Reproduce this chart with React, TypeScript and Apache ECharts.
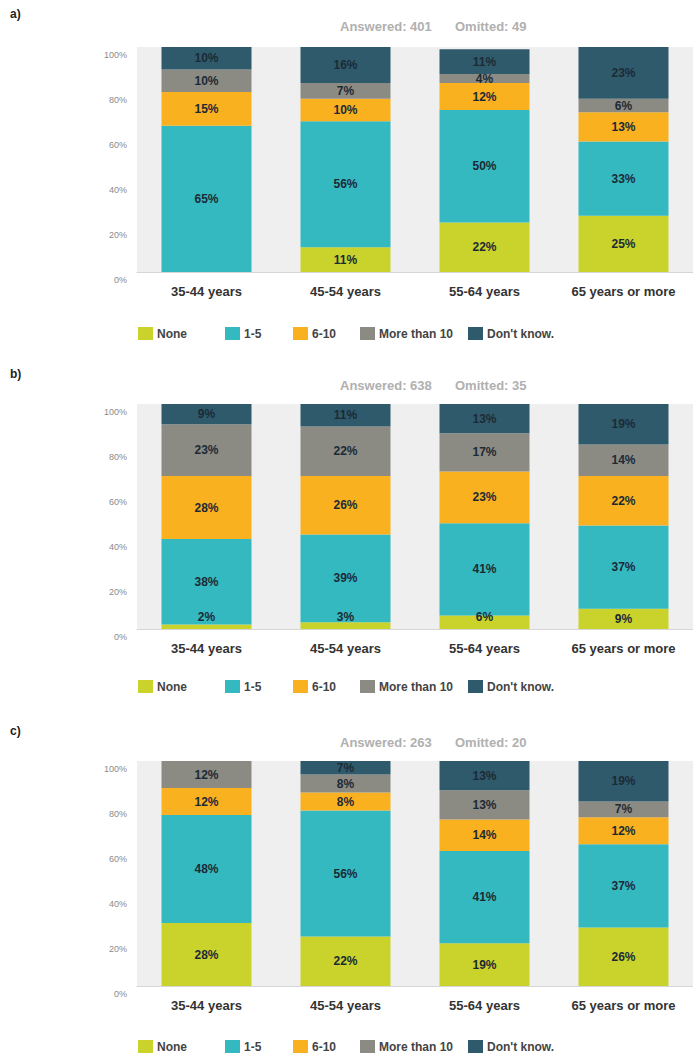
import React, { useEffect, useRef } from "react";
import * as echarts from "echarts";

const categories = ["35-44 years", "45-54 years", "55-64 years", "65 years or more"];
const seriesNames = ["None", "1-5", "6-10", "More than 10", "Don't know."];
const seriesColors = ["#c9d32b", "#35b9c1", "#f9b120", "#8b8b84", "#2f5a6b"];

// Panel a)
const aNone = [0, 11, 22, 25];
const aOneToFive = [65, 56, 50, 33];
const aSixToTen = [15, 10, 12, 13];
const aMoreThanTen = [10, 7, 4, 6];
const aDontKnow = [10, 16, 11, 23];

// Panel b)
const bNone = [2, 3, 6, 9];
const bOneToFive = [38, 39, 41, 37];
const bSixToTen = [28, 26, 23, 22];
const bMoreThanTen = [23, 22, 17, 14];
const bDontKnow = [9, 11, 13, 19];

// Panel c)
const cNone = [28, 22, 19, 26];
const cOneToFive = [48, 56, 41, 37];
const cSixToTen = [12, 8, 14, 12];
const cMoreThanTen = [12, 8, 13, 7];
const cDontKnow = [0, 7, 13, 19];

const panelLabels = ["a)", "b)", "c)"];
const answered = [401, 638, 263];
const omitted = [49, 35, 20];
const yTicks = [0, 20, 40, 60, 80, 100];

const panelData = [
  [aNone, aOneToFive, aSixToTen, aMoreThanTen, aDontKnow],
  [bNone, bOneToFive, bSixToTen, bMoreThanTen, bDontKnow],
  [cNone, cOneToFive, cSixToTen, cMoreThanTen, cDontKnow],
];

// layout (pixels)
const gridTops = [47, 404, 761];
const gridHeight = 225;
const titleTops = [8, 368, 725];
const answeredTops = [20, 379, 736];
const legendTops = [327, 680, 1040];
const legendLefts = [138, 225, 293, 360, 468];

const FONT = "Arial, 'Liberation Sans', sans-serif";

function buildOption() {
  const grids: any[] = [];
  const xAxes: any[] = [];
  const yAxes: any[] = [];
  const series: any[] = [];
  const titles: any[] = [];
  const legends: any[] = [];

  panelData.forEach((rows, p) => {
    grids.push({
      left: 137,
      top: gridTops[p],
      width: 561,
      height: gridHeight,
      show: true,
      backgroundColor: "#efefef",
      borderWidth: 0,
    });
    xAxes.push({
      type: "category",
      gridIndex: p,
      data: categories,
      axisTick: { show: false },
      axisLine: { show: true, lineStyle: { color: "#d6d6d6", width: 1 } },
      axisLabel: {
        color: "#333333",
        fontSize: 13,
        fontWeight: "bold",
        fontFamily: FONT,
        margin: 13,
      },
    });
    yAxes.push({
      type: "value",
      gridIndex: p,
      min: yTicks[0],
      max: yTicks[yTicks.length - 1],
      interval: yTicks[1] - yTicks[0],
      splitLine: { show: false },
      axisLine: { show: false },
      axisTick: { show: false },
      axisLabel: {
        formatter: "{value}%",
        color: "#8a8a8a",
        fontSize: 9,
        fontFamily: FONT,
        margin: 10,
        verticalAlign: "top",
        padding: [3, 0, 0, 0],
      },
    });
    rows.forEach((vals, s) => {
      series.push({
        type: "bar",
        name: seriesNames[s],
        stack: "panel" + p,
        xAxisIndex: p,
        yAxisIndex: p,
        barWidth: 90,
        itemStyle: { color: seriesColors[s] },
        data: vals.map((v) => ({
          value: v,
          label: v > 0 && v < 8 && s === 0 ? { position: "insideBottom", distance: 6 } : undefined,
        })),
        label: {
          show: true,
          position: "inside",
          color: "#1c2a35",
          fontSize: 12,
          fontWeight: "bold",
          fontFamily: FONT,
          formatter: (prm: any) => (prm.value ? prm.value + "%" : ""),
        },
      });
    });
    titles.push({
      text: panelLabels[p],
      left: 10,
      top: titleTops[p],
      padding: 0,
      textStyle: { fontSize: 12, fontWeight: "bold", color: "#222222", fontFamily: FONT },
    });
    titles.push({
      text: "Answered: " + answered[p],
      left: 340,
      top: answeredTops[p],
      padding: 0,
      textStyle: { fontSize: 13, fontWeight: "bold", color: "#b0b0b0", fontFamily: FONT },
    });
    titles.push({
      text: "Omitted: " + omitted[p],
      left: 455,
      top: answeredTops[p],
      padding: 0,
      textStyle: { fontSize: 13, fontWeight: "bold", color: "#b0b0b0", fontFamily: FONT },
    });
    seriesNames.forEach((n, i) => {
      legends.push({
        left: legendLefts[i],
        top: legendTops[p],
        padding: 0,
        itemGap: 0,
        itemWidth: 15,
        itemHeight: 13,
        icon: "rect",
        selectedMode: false,
        textStyle: {
          color: "#444444",
          fontSize: 12,
          fontWeight: "bold",
          fontFamily: FONT,
          padding: [0, 0, 0, -1],
        },
        data: [n],
      });
    });
  });

  return {
    animation: false,
    backgroundColor: "#ffffff",
    title: titles,
    legend: legends,
    grid: grids,
    xAxis: xAxes,
    yAxis: yAxes,
    series,
  };
}

export default function App() {
  const ref = useRef<HTMLDivElement>(null);
  useEffect(() => {
    if (!ref.current) return;
    const chart = echarts.init(ref.current, null, { renderer: "svg" });
    chart.setOption(buildOption() as any);
    return () => chart.dispose();
  }, []);
  return (
    <div
      ref={ref}
      style={{ position: "absolute", left: 0, top: 0, width: 693, height: 1054, background: "#fff" }}
    />
  );
}
